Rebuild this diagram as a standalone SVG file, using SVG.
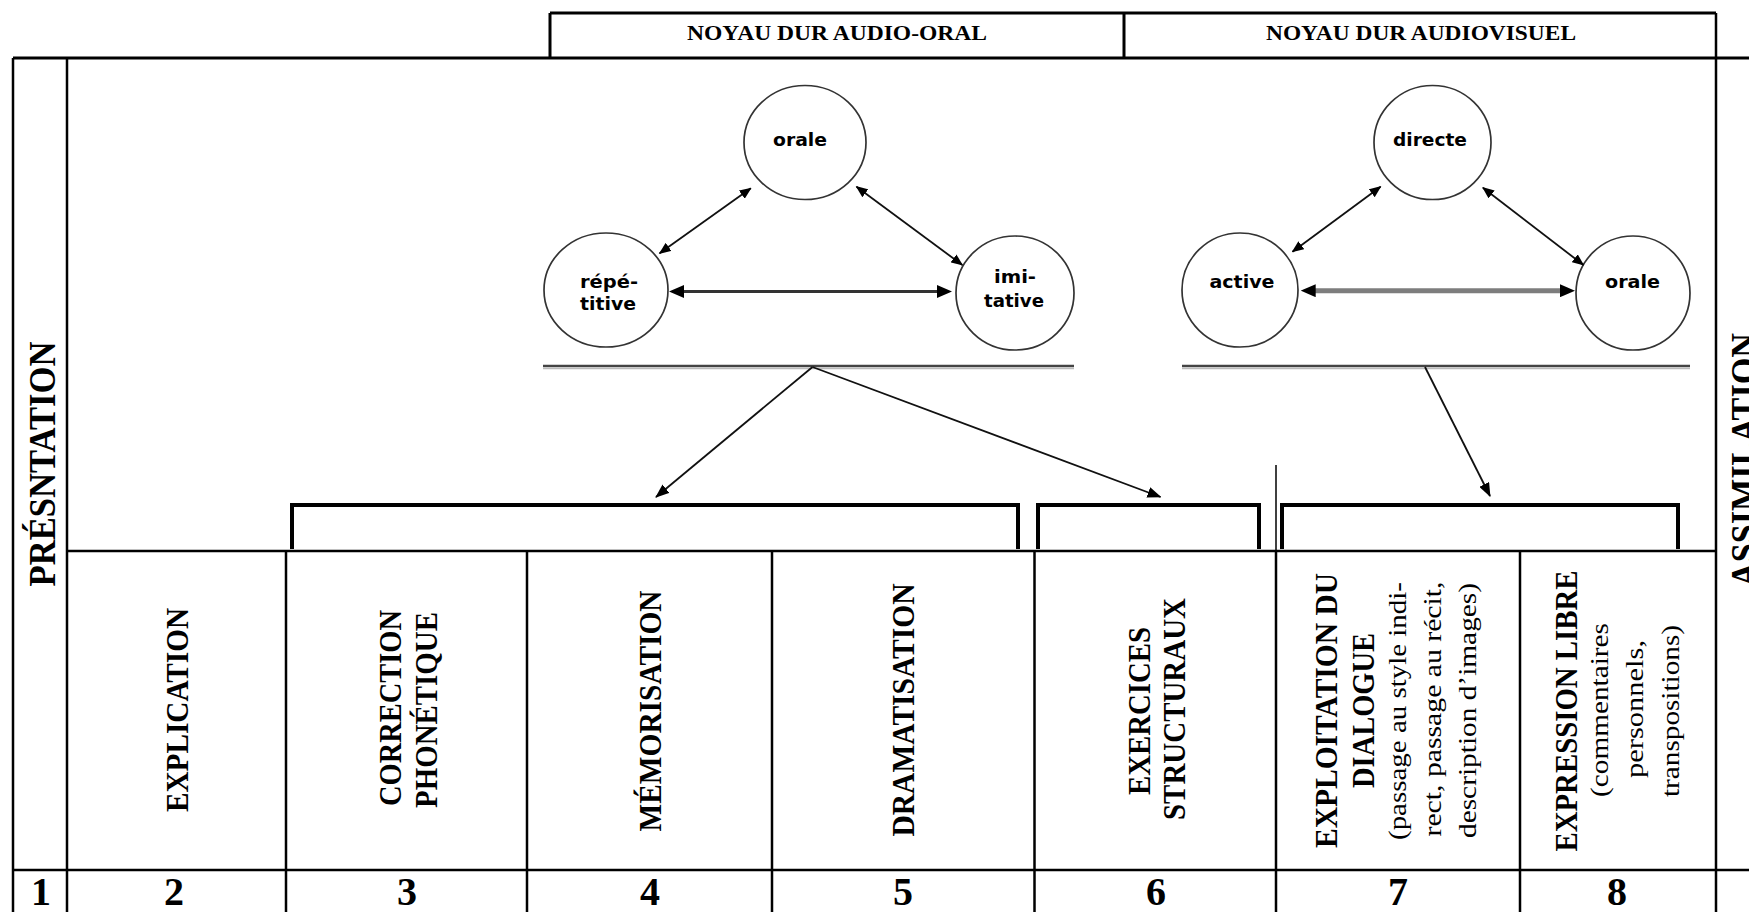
<svg xmlns="http://www.w3.org/2000/svg" width="1749" height="912" viewBox="0 0 1749 912">
<style>
.tl{stroke:#000;stroke-width:2.5;fill:none}
.tk{stroke:#000;stroke-width:3;fill:none}
.br{stroke:#000;stroke-width:4;fill:none;stroke-linejoin:miter}
.ci{fill:#fff;stroke:#333;stroke-width:1.7}
.lb{font-family:"DejaVu Sans","Liberation Sans",sans-serif;font-weight:bold;font-size:17px;fill:#000;text-anchor:middle}
.cap{font-family:"Liberation Serif","Times New Roman",serif;font-weight:bold;font-size:31px;fill:#000;text-anchor:middle}
.low{font-family:"Liberation Serif","Times New Roman",serif;font-size:25px;fill:#000;text-anchor:middle}
.side{font-family:"Liberation Serif","Times New Roman",serif;font-weight:bold;font-size:38px;fill:#000;text-anchor:middle}
.hdr{font-family:"Liberation Serif","Times New Roman",serif;font-weight:bold;font-size:21px;fill:#000;text-anchor:middle}
.num{font-family:"Liberation Serif","Times New Roman",serif;font-weight:bold;font-size:40px;fill:#000;text-anchor:middle}
.dg{stroke:#111;stroke-width:1.8;fill:none}
.hz1{stroke:#333;stroke-width:3;fill:none}
.hz2{stroke:#7d7d7d;stroke-width:5;fill:none}
.bar{stroke:#444;stroke-width:2.5;fill:none}
.barS{stroke:#bbb;stroke-width:1.5;fill:none}
</style>
<defs>
<marker id="ah" viewBox="0 0 12 10" refX="11" refY="5" markerWidth="12" markerHeight="10" markerUnits="userSpaceOnUse" orient="auto-start-reverse"><path d="M0,0 L12,5 L0,10 z" fill="#000"/></marker>
<marker id="ahB" viewBox="0 0 15 13" refX="5" refY="6.5" markerWidth="15" markerHeight="13" markerUnits="userSpaceOnUse" orient="auto-start-reverse"><path d="M0,0 L15,6.5 L0,13 z" fill="#000"/></marker>
<marker id="ahD" viewBox="0 0 14 11" refX="13" refY="5.5" markerWidth="14" markerHeight="11" markerUnits="userSpaceOnUse" orient="auto"><path d="M0,0 L14,5.5 L0,11 z" fill="#000"/></marker>
</defs>
<rect width="1749" height="912" fill="#fff"/>

<g id="table">
<path class="tk" d="M550,13 H1716 M550,13 V58 M1124,13 V58 M13,58 H1749"/>
<path class="tl" d="M1716,13 V912 M13,58 V912 M67,58 V912 M67,551 H1716 M13,870 H1749"/>
<path class="tl" d="M286,551 V912 M527,551 V912 M772,551 V912 M1034.5,551 V912 M1276,551 V912 M1520,551 V912"/>
<path d="M1276,465 V551" stroke="#000" stroke-width="1.5" fill="none"/>
</g>

<g id="header-audio-oral"><text class="hdr" x="837" y="40" textLength="300" lengthAdjust="spacingAndGlyphs">NOYAU DUR AUDIO-ORAL</text></g>
<g id="header-audiovisuel"><text class="hdr" x="1421" y="40" textLength="310" lengthAdjust="spacingAndGlyphs">NOYAU DUR AUDIOVISUEL</text></g>

<g id="presentation"><text class="side" transform="translate(55,464) rotate(-90)" textLength="245" lengthAdjust="spacingAndGlyphs">PRÉSNTATION</text></g>
<g id="assimilation"><text class="side" transform="translate(1757,460) rotate(-90)" textLength="254" lengthAdjust="spacingAndGlyphs">ASSIMILATION</text></g>

<g id="groupings">
<path class="bar" d="M543,366 H1074 M1182,366 H1690"/>
<path class="barS" d="M543,368.5 H1074 M1182,368.5 H1690"/>
<path class="br" d="M292,549 V505 H1018 V549"/>
<path class="br" d="M1038,549 V505 H1259 V549"/>
<path class="br" d="M1282,549 V505 H1678 V549"/>
</g>

<g id="node-orale-1"><ellipse class="ci" cx="805" cy="142.5" rx="61" ry="57"/><text class="lb" x="800" y="146" textLength="54" lengthAdjust="spacingAndGlyphs">orale</text></g>
<g id="node-repetitive"><ellipse class="ci" cx="606" cy="290" rx="62" ry="57"/><text class="lb" x="609" y="288" textLength="58" lengthAdjust="spacingAndGlyphs">répé-</text><text class="lb" x="608" y="310" textLength="56" lengthAdjust="spacingAndGlyphs">titive</text></g>
<g id="node-imitative"><ellipse class="ci" cx="1015" cy="293" rx="59" ry="57"/><text class="lb" x="1015" y="283" textLength="42" lengthAdjust="spacingAndGlyphs">imi-</text><text class="lb" x="1014" y="307" textLength="60" lengthAdjust="spacingAndGlyphs">tative</text></g>
<g id="node-directe"><ellipse class="ci" cx="1432.5" cy="142.5" rx="58.5" ry="57"/><text class="lb" x="1430" y="146" textLength="74" lengthAdjust="spacingAndGlyphs">directe</text></g>
<g id="node-active"><ellipse class="ci" cx="1240" cy="290" rx="58" ry="57"/><text class="lb" x="1242" y="288" textLength="65" lengthAdjust="spacingAndGlyphs">active</text></g>
<g id="node-orale-2"><ellipse class="ci" cx="1633" cy="293" rx="57" ry="57"/><text class="lb" x="1632.5" y="288" textLength="55" lengthAdjust="spacingAndGlyphs">orale</text></g>

<g id="connectors">
<line class="dg" x1="750.8" y1="188.3" x2="659.6" y2="253.3" marker-start="url(#ah)" marker-end="url(#ah)"/>
<line class="dg" x1="856.5" y1="186.7" x2="962.3" y2="265" marker-start="url(#ah)" marker-end="url(#ah)"/>
<line class="hz1" x1="679" y1="291.5" x2="942" y2="291.5" marker-start="url(#ahB)" marker-end="url(#ahB)"/>
<line class="dg" x1="1380.6" y1="186.7" x2="1292.5" y2="251.7" marker-start="url(#ah)" marker-end="url(#ah)"/>
<line class="dg" x1="1482.9" y1="187.7" x2="1583.4" y2="265" marker-start="url(#ah)" marker-end="url(#ah)"/>
<line class="hz2" x1="1310.7" y1="290.7" x2="1565" y2="290.7" marker-start="url(#ahB)" marker-end="url(#ahB)"/>
<line class="dg" x1="812.5" y1="367" x2="656" y2="497" marker-end="url(#ahD)"/>
<line class="dg" x1="812.5" y1="367" x2="1160.5" y2="497" marker-end="url(#ahD)"/>
<line class="dg" x1="1425" y1="367" x2="1490" y2="496" marker-end="url(#ahD)"/>
</g>

<g id="col-explication"><text class="cap" transform="translate(188,710) rotate(-90)" textLength="204" lengthAdjust="spacingAndGlyphs">EXPLICATION</text></g>
<g id="col-correction"><text class="cap" transform="translate(401,708) rotate(-90)" textLength="196" lengthAdjust="spacingAndGlyphs">CORRECTION</text><text class="cap" transform="translate(437,710) rotate(-90)" textLength="196" lengthAdjust="spacingAndGlyphs">PHONÉTIQUE</text></g>
<g id="col-memorisation"><text class="cap" transform="translate(661,711) rotate(-90)" textLength="241" lengthAdjust="spacingAndGlyphs">MÉMORISATION</text></g>
<g id="col-dramatisation"><text class="cap" transform="translate(914,710) rotate(-90)" textLength="253" lengthAdjust="spacingAndGlyphs">DRAMATISATION</text></g>
<g id="col-exercices"><text class="cap" transform="translate(1150,711) rotate(-90)" textLength="168" lengthAdjust="spacingAndGlyphs">EXERCICES</text><text class="cap" transform="translate(1184.5,709) rotate(-90)" textLength="222" lengthAdjust="spacingAndGlyphs">STRUCTURAUX</text></g>
<g id="col-exploitation">
<text class="cap" transform="translate(1337,710.5) rotate(-90)" textLength="275" lengthAdjust="spacingAndGlyphs">EXPLOITATION DU</text>
<text class="cap" transform="translate(1374,710.5) rotate(-90)" textLength="155" lengthAdjust="spacingAndGlyphs">DIALOGUE</text>
<text class="low" transform="translate(1406,711) rotate(-90)" textLength="258" lengthAdjust="spacingAndGlyphs">(passage au style indi-</text>
<text class="low" transform="translate(1441,709) rotate(-90)" textLength="255" lengthAdjust="spacingAndGlyphs">rect, passage au récit,</text>
<text class="low" transform="translate(1476,710.5) rotate(-90)" textLength="255" lengthAdjust="spacingAndGlyphs">description d’images)</text>
</g>
<g id="col-expression">
<text class="cap" transform="translate(1577,711) rotate(-90)" textLength="281" lengthAdjust="spacingAndGlyphs">EXPRESSION LIBRE</text>
<text class="low" transform="translate(1607.5,710) rotate(-90)" textLength="174" lengthAdjust="spacingAndGlyphs">(commentaires</text>
<text class="low" transform="translate(1643,709) rotate(-90)" textLength="138" lengthAdjust="spacingAndGlyphs">personnels,</text>
<text class="low" transform="translate(1679,711) rotate(-90)" textLength="172" lengthAdjust="spacingAndGlyphs">transpositions)</text>
</g>

<g id="numbers">
<text class="num" x="41" y="905">1</text>
<text class="num" x="174" y="905">2</text>
<text class="num" x="407" y="905">3</text>
<text class="num" x="650" y="905">4</text>
<text class="num" x="903" y="905">5</text>
<text class="num" x="1156" y="905">6</text>
<text class="num" x="1398" y="905">7</text>
<text class="num" x="1617" y="905">8</text>
</g>
</svg>
